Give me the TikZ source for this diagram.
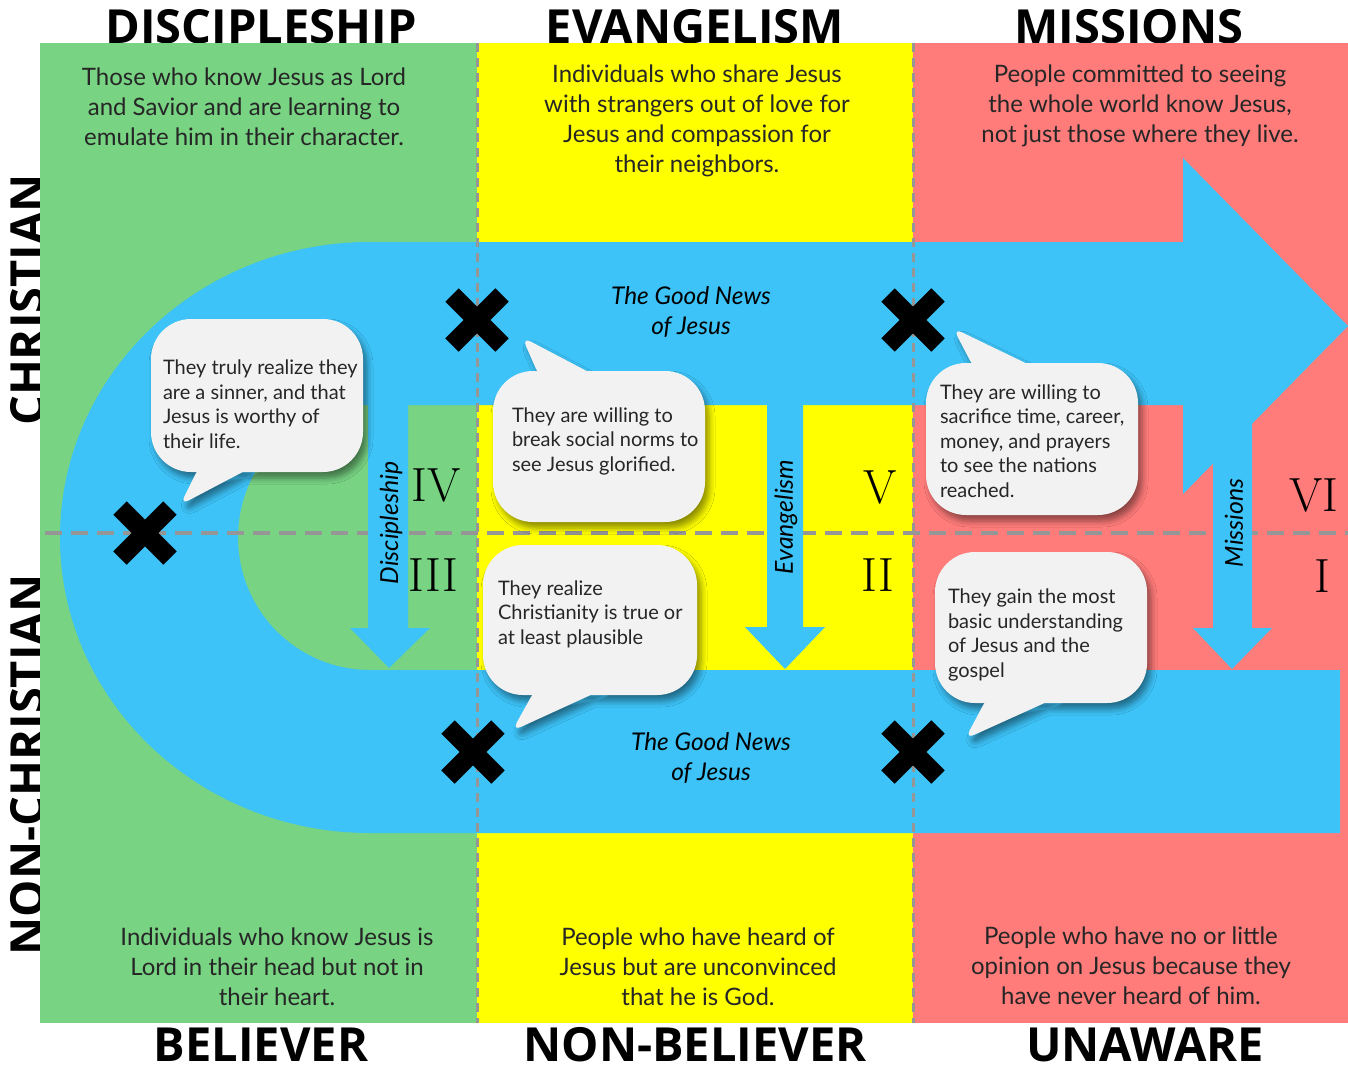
\documentclass[tikz,border=0pt]{standalone}
\usepackage{fontspec}
\usetikzlibrary{shadows.blur}
\newfontfamily\bodyfont{Lato}
\newfontfamily\titlefont{Open Sans}
\definecolor{colgreen}{RGB}{120,211,131}
\definecolor{colyellow}{RGB}{255,255,0}
\definecolor{colpink}{RGB}{255,124,122}
\definecolor{colblue}{RGB}{61,195,248}
\definecolor{dashgray}{RGB}{150,150,150}
\definecolor{bubblefill}{RGB}{242,242,242}
\newcommand\speech[7]{%
  \fill[bubfill] [rounded corners=20] (#1,#2) -- (#3,#2) -- (#3,#4) -- (#1,#4) -- cycle
       [rounded corners=5] (#5) -- (#6) -- (#7) -- cycle;
}
\newcommand\xcross[1]{%
  \draw[xmark] (#1) +(-25,-25) -- +(25,25);
  \draw[xmark] (#1) +(-25,25) -- +(25,-25);
}
\begin{document}
\begin{tikzpicture}[x=0.5pt,y=-0.5pt,
  every node/.style={inner sep=0pt, outer sep=0pt},
  title/.style={font=\titlefont\bfseries\fontsize{23.5}{28}\selectfont},
  desc/.style={align=center, font=\bodyfont\fontsize{12}{15}\selectfont, text=black!85},
  bubtext/.style={align=left, anchor=west, font=\bodyfont\fontsize{10}{12.25}\selectfont, text=black!85},
  news/.style={align=center, font=\bodyfont\itshape\fontsize{12.2}{15}\selectfont},
  arrowlab/.style={rotate=90, font=\bodyfont\itshape\fontsize{12.4}{13}\selectfont},
  numeral/.style={font=\normalfont\rmfamily\fontsize{24}{24}\selectfont},
  xmark/.style={line width=9.5pt, draw=black},
  vdash/.style={draw=dashgray, line width=1.5pt, dash pattern=on 4.5pt off 3pt},
  hdash/.style={draw=dashgray, line width=2pt, dash pattern=on 8.5pt off 4.5pt},
  bubfill/.style={fill=bubblefill, blur shadow={shadow xshift=2pt, shadow yshift=-3pt, shadow blur radius=3pt, shadow opacity=45, shadow blur steps=6}},
  blueshape/.style={fill=colblue},
]
\useasboundingbox (0,0) rectangle (1348,1066);
\fill[white] (0,0) rectangle (1348,1066);

% titles
\node[title] (tdisc) at (261,27) {DISCIPLESHIP};
\node[title] (tevan) at (695,27) {EVANGELISM};
\node[title] (tmiss) at (1129,27) {MISSIONS};
\node[title] (tbel) at (261,1045) {BELIEVER};
\node[title] (tnonbel) at (695,1045) {NON-BELIEVER};
\node[title] (tuna) at (1145,1045) {UNAWARE};
\node[title, rotate=90] (tchr) at (28,300) {CHRISTIAN};
\node[title, rotate=90] (tnonchr) at (28,765) {NON-CHRISTIAN};

% columns
\fill[colgreen] (40,43) rectangle (477,1023);
\fill[colyellow] (477,43) rectangle (913,1023);
\fill[colpink] (913,43) rectangle (1348,1023);

% blue U band
\fill[blueshape] (1184,242) -- (370,242)
   arc[start angle=270, end angle=90, x radius=310, y radius=295.5]
   -- (1340,833) -- (1340,670) -- (370,670)
   arc[start angle=90, end angle=270, x radius=132, y radius=132.5]
   -- (1184,405) -- cycle;
% arrow head
\fill[blueshape] (1183,158) -- (1348,326) -- (1183,494) -- cycle;

% dashed grid
\draw[hdash] (45,533) -- (1348,533);
\draw[vdash] (477,43) -- (477,1023);
\draw[vdash] (913,43) -- (913,1023);

% down arrows
\fill[blueshape] (368,404) -- (368,628) -- (350,628) -- (389,668) -- (430,628) -- (408,628) -- (408,404) -- cycle;
\fill[blueshape] (767,404) -- (767,627) -- (745,627) -- (785,669) -- (825,627) -- (803,627) -- (803,404) -- cycle;
\fill[blueshape] (1213,400) -- (1213,628) -- (1193,628) -- (1232,669) -- (1272,628) -- (1252,628) -- (1252,400) -- cycle;

% speech bubbles
\speech{151}{319}{363}{472}{256,465}{180,505}{200,465}
\speech{493}{371}{705}{522}{540,378}{522,337}{600,378}
\speech{483}{545}{697}{695}{606,688}{512,731}{536,688}
\speech{926}{363}{1138}{515}{975,370}{953,328}{1040,370}
\speech{935}{552}{1147}{703}{1060,696}{965,739}{988,696}

% crosses
\xcross{477,320}
\xcross{913,320}
\xcross{145,533}
\xcross{473,752}
\xcross{913,752}

% description texts
\node[desc] (ddisc) at (244,107) {Those who know Jesus as Lord\\and Savior and are learning to\\emulate him in their character.};
\node[desc] (devan) at (697,121) {Individuals who share Jesus\\with strangers out of love for\\Jesus and compassion for\\their neighbors.};
\node[desc] (dmiss) at (1140,106) {People committed to seeing\\the whole world know Jesus,\\not just those where they live.};
\node[desc] (dbel) at (277,967) {Individuals who know Jesus is\\Lord in their head but not in\\their heart.};
\node[desc] (dnonbel) at (698,967) {People who have heard of\\Jesus but are unconvinced\\that he is God.};
\node[desc] (duna) at (1131,966) {People who have no or little\\opinion on Jesus because they\\have never heard of him.};

% bubble texts
\node[bubtext] (ba) at (163,404) {They truly realize they\\are a sinner, and that\\Jesus is worthy of\\their life.};
\node[bubtext] (bb) at (512,441) {They are willing to\\break social norms to\\see Jesus glorified.};
\node[bubtext] (bc) at (498,614) {They realize\\Christianity is true or\\at least plausible};
\node[bubtext] (bd) at (940,441) {They are willing to\\sacrifice time, career,\\money, and prayers\\to see the nations\\reached.};
\node[bubtext] (be) at (948,635) {They gain the most\\basic understanding\\of Jesus and the\\gospel};

% good news
\node[news] (gn1) at (691,312) {The Good News\\of Jesus};
\node[news] (gn2) at (711,758) {The Good News\\of Jesus};

% arrow labels
\node[arrowlab] (ldisc) at (391,523) {Discipleship};
\node[arrowlab] (levan) at (786,517) {Evangelism};
\node[arrowlab] (lmiss) at (1234,523) {Missions};

% numerals
\node[numeral] (n4) at (436,485) {IV};
\node[numeral] (n3) at (433,575) {III};
\node[numeral] (n5) at (880,487) {V};
\node[numeral] (n2) at (878,575) {II};
\node[numeral] (n6) at (1314,495) {VI};
\node[numeral] (n1) at (1322,576) {I};
\end{tikzpicture}
\end{document}
